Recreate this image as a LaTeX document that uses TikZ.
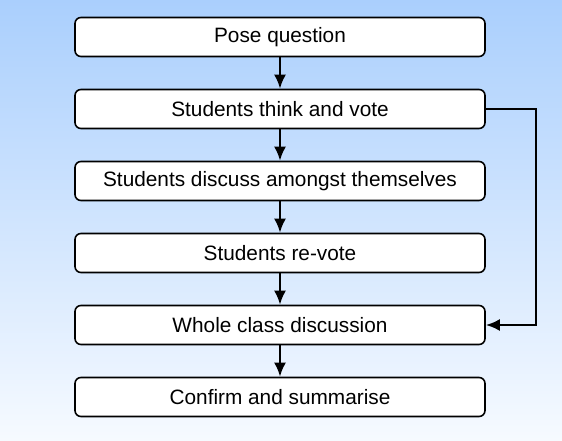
\documentclass[tikz,border=0pt]{standalone}
\usepackage{fontspec}
\setmainfont{Liberation Sans}
\usetikzlibrary{positioning}
\usetikzlibrary{arrows.meta,calc}
\tikzset{line/.style={draw, line width=2.4pt, -{Latex[length=14pt,width=12pt]}}}
\definecolor{bgtop}{HTML}{AACFFD}
\definecolor{bgbottom}{HTML}{F6FAFF}

\begin{document}
\begin{tikzpicture}[x=1pt,y=1pt]
\tikzstyle{block} = [rectangle, rounded corners=6pt, draw, line width=1.6pt, fill=white, minimum width=410pt, minimum height=39pt, inner sep=0pt, font=\fontsize{20.8}{24}\selectfont]

% background
    \shade [top color=bgtop, bottom color=bgbottom] (0,0) rectangle (562,-440);
    \useasboundingbox (0,0) rectangle (562,-440);
% blocks
    \node [block] (pose) at (280,-37) {Pose question};
    \node [block, below=31.4pt of pose] (vote) {Students think and vote};
    \node [block, below=31.4pt of vote] (discuss) {Students discuss amongst themselves};
    \node [block, below=31.4pt of discuss] (revote) {Students re-vote};
    \node [block, below=31.4pt of revote] (whole) {Whole class discussion};
    \node [block, below=31.4pt of whole] (confirm) {Confirm and summarise};
% arrows
    \path [line] (pose.south) -- (vote.north);
    \path [line] (vote.south) -- (discuss.north);
    \path [line] (discuss.south) -- (revote.north);
    \path [line] (revote.south) -- (whole.north);
    \path [line] (whole.south) -- (confirm.north);
    \path [line] (vote.east) -- ++(50,0) |- (whole.east);
\end{tikzpicture}
\end{document}
